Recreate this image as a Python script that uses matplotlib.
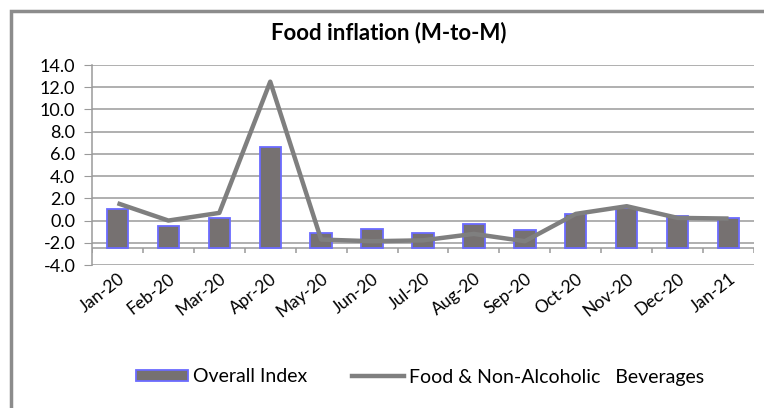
import matplotlib.pyplot as plt
from matplotlib.patches import Rectangle
from matplotlib.lines import Line2D
from matplotlib.patches import Patch

plt.rcParams['font.family'] = ['Lato', 'DejaVu Sans']

months = ['Jan-20', 'Feb-20', 'Mar-20', 'Apr-20', 'May-20', 'Jun-20', 'Jul-20',
          'Aug-20', 'Sep-20', 'Oct-20', 'Nov-20', 'Dec-20', 'Jan-21']
overall = [1.08, -0.51, 0.24, 6.64, -1.11, -0.78, -1.08, -0.30, -0.81, 0.57, 1.14, 0.39, 0.27]
food = [1.56, 0.0, 0.69, 12.5, -1.71, -1.86, -1.78, -1.20, -1.86, 0.60, 1.29, 0.24, 0.18]
axis_cross = -2.5

W, H = 764, 408
fig = plt.figure(figsize=(W / 100, H / 100), dpi=100)

# chart frame (left/top edges visible)
fig.patches.append(Rectangle((11 / W, -0.05), 1.2, 1 - 11 / H + 0.05,
                             transform=fig.transFigure, fill=False,
                             edgecolor='#8c8c8c', linewidth=2.5))

ax = fig.add_axes([92 / W, 1 - 265 / H, (754 - 92) / W, (265 - 65) / H])
x = list(range(len(months)))

ax.set_ylim(-4, 14)
ax.set_xlim(-0.5, len(months) - 0.5)
yt = list(range(-4, 15, 2))
ax.set_yticks(yt)
ax.set_yticklabels([f'{v:.1f}' for v in yt], fontsize=13)
for v in yt:
    ax.axhline(v, color='#9a9a9a', linewidth=1.1, zorder=0)

ax.bar(x, [v - axis_cross for v in overall], bottom=axis_cross, width=0.42,
       color='#767171', edgecolor='#6b6bff', linewidth=1.3, zorder=2)
ax.plot(x, food, color='#7f7f7f', linewidth=3.2, zorder=3, solid_capstyle='butt')

# category axis at the crossing value
ax.axhline(axis_cross, color='#9a9a9a', linewidth=1.1, zorder=1)
ax.vlines([i - 0.5 for i in range(len(months) + 1)], axis_cross - 0.45, axis_cross,
          color='#9a9a9a', linewidth=1.1, zorder=1)

ax.set_xticks(x)
ax.set_xticklabels(months, rotation=38, ha='right', rotation_mode='anchor', fontsize=12.5)
ax.tick_params(axis='x', length=0, pad=4)
ax.tick_params(axis='y', length=6, color='#9a9a9a', pad=6)
for s in ['top', 'right', 'bottom']:
    ax.spines[s].set_visible(False)
ax.spines['left'].set_color('#9a9a9a')
ax.spines['left'].set_linewidth(1.1)
ax.set_facecolor('none')

fig.text(389 / W, 1 - 33 / H, 'Food inflation (M-to-M)', ha='center', va='center',
         fontsize=16, fontweight='bold')

handles = [Patch(facecolor='#767171', edgecolor='#6b6bff', linewidth=1.3),
           Line2D([], [], color='#7f7f7f', linewidth=3.2)]
fig.legend(handles, ['Overall Index', 'Food & Non-Alcoholic   Beverages'],
           loc='center', bbox_to_anchor=(420 / W, 1 - 377 / H), ncol=2, frameon=False,
           fontsize=14, handlelength=2.7, handleheight=0.55, columnspacing=2.3,
           handletextpad=0.25)

fig.savefig('out.png', dpi=100)
